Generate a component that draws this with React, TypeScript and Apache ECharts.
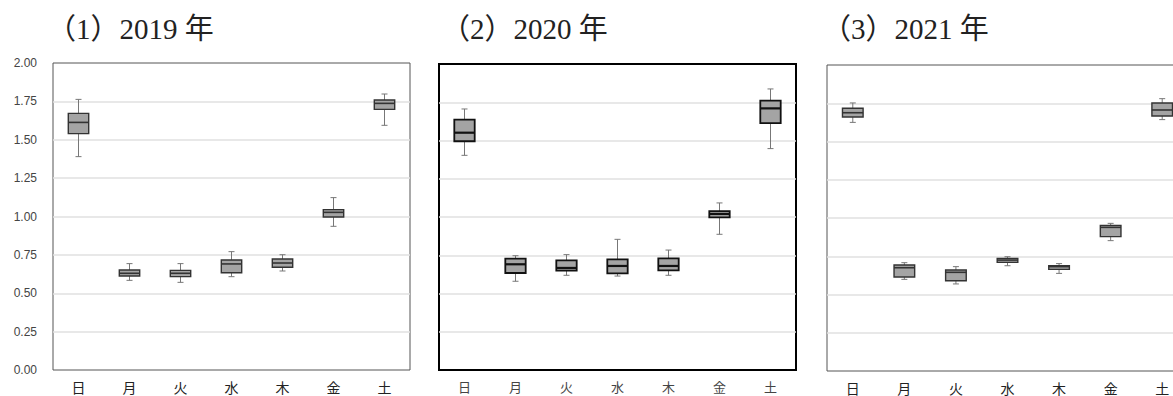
import React, { useEffect, useRef } from "react";
import * as echarts from "echarts";

const categories = ["日", "月", "火", "水", "木", "金", "土"];
const yTicks = [0, 0.25, 0.5, 0.75, 1.0, 1.25, 1.5, 1.75, 2.0];
const titles = ["（1）2019 年", "（2）2020 年", "（3）2021 年"];

// [min, q1, median, q3, max]
const data2019 = [
  [1.39, 1.54, 1.613, 1.672, 1.763],
  [0.584, 0.612, 0.63, 0.651, 0.693],
  [0.571, 0.608, 0.63, 0.649, 0.693],
  [0.608, 0.634, 0.691, 0.717, 0.771],
  [0.645, 0.669, 0.697, 0.723, 0.751],
  [0.936, 0.997, 1.027, 1.045, 1.123],
  [1.594, 1.698, 1.737, 1.759, 1.798],
];
const data2020 = [
  [1.403, 1.495, 1.551, 1.636, 1.706],
  [0.58, 0.634, 0.691, 0.728, 0.747],
  [0.619, 0.649, 0.667, 0.717, 0.754],
  [0.614, 0.632, 0.68, 0.723, 0.854],
  [0.619, 0.651, 0.68, 0.73, 0.784],
  [0.887, 0.998, 1.02, 1.039, 1.092],
  [1.447, 1.614, 1.71, 1.76, 1.837],
];
const data2021 = [
  [1.625, 1.66, 1.688, 1.717, 1.752],
  [0.599, 0.614, 0.675, 0.693, 0.708],
  [0.569, 0.59, 0.645, 0.66, 0.682],
  [0.688, 0.71, 0.725, 0.736, 0.747],
  [0.638, 0.664, 0.682, 0.688, 0.702],
  [0.852, 0.878, 0.939, 0.952, 0.965],
  [1.643, 1.667, 1.706, 1.752, 1.78],
];

const allData = [data2019, data2020, data2021];

const panelStyle = [
  { border: "#555", borderWidth: 1, boxStroke: "#333", boxWidth: 1.4, medWidth: 1.6, med: "#333", label: "#222", labelSize: 14 },
  { border: "#000", borderWidth: 2, boxStroke: "#111", boxWidth: 1.8, medWidth: 2.2, med: "#111", label: "#444", labelSize: 13 },
  { border: "#555", borderWidth: 1, boxStroke: "#333", boxWidth: 1.4, medWidth: 1.6, med: "#333", label: "#222", labelSize: 14 },
];

const grids = [
  { left: 53, top: 63, width: 357, height: 307 },
  { left: 439, top: 64, width: 357, height: 306 },
  { left: 827, top: 65, width: 361, height: 306 },
];
const titlePos = [47, 441, 822];

export default function App() {
  const ref = useRef<HTMLDivElement>(null);
  useEffect(() => {
    if (!ref.current) return;
    const chart = echarts.init(ref.current, null, { renderer: "svg" });

    const makeRender = (p: number) => (params: any, api: any) => {
      const idx = api.value(0);
      const vmin = api.coord([idx, api.value(1)]);
      const q1 = api.coord([idx, api.value(2)]);
      const med = api.coord([idx, api.value(3)]);
      const q3 = api.coord([idx, api.value(4)]);
      const vmax = api.coord([idx, api.value(5)]);
      const bw = api.size([1, 0])[0] * 0.4;
      const cap = 3;
      const x = q1[0];
      const st = panelStyle[p];
      const wStyle = { stroke: "#777", lineWidth: 1, fill: "none" };
      return {
        type: "group",
        children: [
          { type: "line", shape: { x1: x, y1: q3[1], x2: x, y2: vmax[1] }, style: wStyle },
          { type: "line", shape: { x1: x, y1: q1[1], x2: x, y2: vmin[1] }, style: wStyle },
          { type: "line", shape: { x1: x - cap, y1: vmax[1], x2: x + cap, y2: vmax[1] }, style: wStyle },
          { type: "line", shape: { x1: x - cap, y1: vmin[1], x2: x + cap, y2: vmin[1] }, style: wStyle },
          {
            type: "rect",
            shape: { x: x - bw / 2, y: q3[1], width: bw, height: q1[1] - q3[1] },
            style: { fill: "#a4a4a4", stroke: st.boxStroke, lineWidth: st.boxWidth },
          },
          {
            type: "line",
            shape: { x1: x - bw / 2, y1: med[1], x2: x + bw / 2, y2: med[1] },
            style: { stroke: st.med, lineWidth: st.medWidth },
          },
        ],
      };
    };

    const option: any = {
      animation: false,
      title: titles.map((t, i) => ({
        text: t,
        left: titlePos[i],
        top: 14,
        padding: 0,
        textStyle: {
          fontSize: 29,
          fontWeight: "normal",
          fontFamily: "'Liberation Serif', 'Noto Sans CJK JP', serif",
          color: "#222",
        },
      })),
      grid: grids.map((g, i) => ({
        ...g,
        show: true,
        borderColor: panelStyle[i].border,
        borderWidth: panelStyle[i].borderWidth,
        backgroundColor: "#fff",
        containLabel: false,
      })),
      xAxis: grids.map((_, i) => ({
        type: "category",
        gridIndex: i,
        data: categories,
        boundaryGap: true,
        axisLine: { show: false },
        axisTick: { show: false },
        axisLabel: {
          margin: 10,
          fontSize: panelStyle[i].labelSize,
          color: panelStyle[i].label,
          fontFamily: "'Noto Sans CJK JP', sans-serif",
        },
        splitLine: { show: false },
      })),
      yAxis: grids.map((_, i) => ({
        type: "value",
        gridIndex: i,
        min: yTicks[0],
        max: yTicks[yTicks.length - 1],
        interval: 0.25,
        axisLine: { show: false },
        axisTick: { show: false },
        axisLabel: {
          show: i === 0,
          margin: 16,
          fontSize: 12,
          color: "#444",
          fontFamily: "'Liberation Sans', sans-serif",
          formatter: (v: number) => v.toFixed(2),
        },
        splitLine: {
          show: true,
          showMinLine: false,
          showMaxLine: false,
          lineStyle: { color: "#e0e0e0", width: 1.5 },
        },
      })),
      series: allData.map((d, i) => ({
        type: "custom",
        xAxisIndex: i,
        yAxisIndex: i,
        renderItem: makeRender(i),
        encode: { x: 0, y: [1, 2, 3, 4, 5] },
        data: d.map((row, k) => [k, ...row]),
        z: 5,
      })),
    };
    chart.setOption(option);
    return () => chart.dispose();
  }, []);
  return (
    <div
      style={{ position: "absolute", left: 0, top: 0, width: 1173, height: 396, overflow: "hidden", background: "#fff" }}
    >
      <div ref={ref} style={{ width: 1200, height: 396 }} />
    </div>
  );
}
